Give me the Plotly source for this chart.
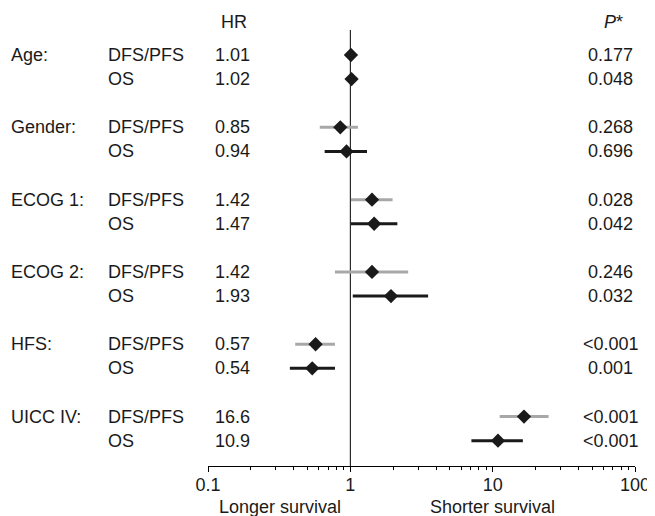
import plotly.graph_objects as go

groups = ["Age:", "Gender:", "ECOG 1:", "ECOG 2:", "HFS:", "UICC IV:"]
endpoints = ["DFS/PFS", "OS"]

hr_dfs = [1.01, 0.85, 1.42, 1.42, 0.57, 16.6]
lo_dfs = [1.00, 0.61, 1.01, 0.78, 0.41, 11.2]
hi_dfs = [1.02, 1.13, 1.98, 2.55, 0.78, 24.7]
p_dfs = ["0.177", "0.268", "0.028", "0.246", "<0.001", "<0.001"]

hr_os = [1.02, 0.94, 1.47, 1.93, 0.54, 10.9]
lo_os = [1.00, 0.66, 1.01, 1.04, 0.376, 7.09]
hi_os = [1.04, 1.31, 2.14, 3.52, 0.78, 16.3]
p_os = ["0.048", "0.696", "0.042", "0.032", "0.001", "<0.001"]

hr_labels_dfs = ["1.01", "0.85", "1.42", "1.42", "0.57", "16.6"]
hr_labels_os = ["1.02", "0.94", "1.47", "1.93", "0.54", "10.9"]

tick_vals = [0.1, 1, 10, 100]
tick_text = ["0.1", "1", "10", "100"]

FONT = "Liberation Sans, Arial, sans-serif"
FS = 18

y_dfs = [3 * i for i in range(len(groups))]
y_os = [3 * i + 1 for i in range(len(groups))]

# page has an 8px body margin; figure coordinates = page - 8
OFF = 8
L = 208 - OFF
R_EDGE = 635.5 - OFF
FIG_W = 655 - OFF
FIG_H = 516 - OFF
T = 0
B = 50
PLOT_H = FIG_H - T - B
Y_BOT = 17.05
Y_TOP = (OFF - 55) / 24.1

fig = go.Figure()

# reference line at HR = 1
fig.add_trace(go.Scatter(x=[1, 1], y=[-1.04, Y_BOT], mode="lines",
                         line=dict(color="black", width=1), hoverinfo="skip", showlegend=False))

fig.add_trace(go.Scatter(
    x=hr_dfs, y=y_dfs, mode="markers",
    marker=dict(symbol="diamond", size=11, color="#1a1a1a"),
    error_x=dict(type="data", symmetric=False,
                 array=[h - m for h, m in zip(hi_dfs, hr_dfs)],
                 arrayminus=[m - l for m, l in zip(hr_dfs, lo_dfs)],
                 color="#a8a8a8", thickness=3, width=0),
    showlegend=False))

fig.add_trace(go.Scatter(
    x=hr_os, y=y_os, mode="markers",
    marker=dict(symbol="diamond", size=11, color="#1a1a1a"),
    error_x=dict(type="data", symmetric=False,
                 array=[h - m for h, m in zip(hi_os, hr_os)],
                 arrayminus=[m - l for m, l in zip(hr_os, lo_os)],
                 color="#1a1a1a", thickness=3, width=0),
    showlegend=False))

W = R_EDGE - L
def px(p):
    return (p - OFF - L) / W

ann = []
def txt(x, y, s, anchor="left", yref="y"):
    ann.append(dict(x=x, y=y, xref="paper", yref=yref, text=s, showarrow=False,
                    xanchor=anchor, yanchor="middle",
                    font=dict(family=FONT, size=FS, color="#1a1a1a")))

txt(px(234), -1.37, "HR", "center")
txt(px(613.5), -1.37, "<i>P</i>*", "center")
for i, g in enumerate(groups):
    txt(px(9), y_dfs[i], g)
    txt(px(106), y_dfs[i], endpoints[0])
    txt(px(106), y_os[i], endpoints[1])
    txt(px(213), y_dfs[i], hr_labels_dfs[i])
    txt(px(213), y_os[i], hr_labels_os[i])
    txt(px(611), y_dfs[i], p_dfs[i], "center")
    txt(px(611), y_os[i], p_os[i], "center")

ylab = -(507 - 466) / PLOT_H
txt(px(280), ylab, "Longer survival", "center", "paper")
txt(px(492.5), ylab, "Shorter survival", "center", "paper")

fig.update_layout(
    width=FIG_W, height=FIG_H,
    margin=dict(l=L, r=FIG_W - R_EDGE, t=T, b=B),
    paper_bgcolor="white", plot_bgcolor="white",
    font=dict(family=FONT, size=FS, color="#1a1a1a"),
    annotations=ann,
    xaxis=dict(type="log", range=[-1, 2], tickvals=tick_vals, ticktext=tick_text,
               showgrid=False, zeroline=False, showline=True, linecolor="black", linewidth=1,
               ticks="outside", ticklen=5, tickcolor="black", tickwidth=1,
               ticklabelstandoff=-3,
               minor=dict(ticks="outside", ticklen=3, dtick="D1", tickcolor="black", showgrid=False),
               tickfont=dict(family=FONT, size=FS, color="#1a1a1a")),
    yaxis=dict(range=[Y_BOT, Y_TOP], visible=False, showgrid=False, zeroline=False),
)

fig.write_html("out.html")
